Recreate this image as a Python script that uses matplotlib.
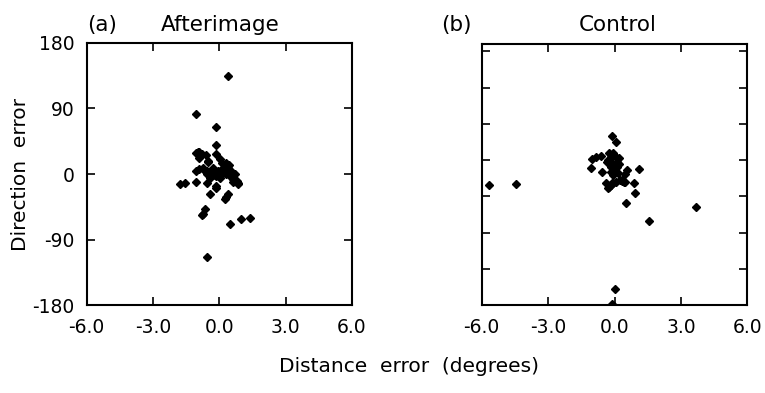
import matplotlib
matplotlib.use("Agg")
import matplotlib.pyplot as plt

# Panel (a) Afterimage: distance error (deg), direction error (deg)
after_x = [0.38, -1.06, -0.13, -0.13, -0.13, -1.06, -0.90, -0.93, -0.60, -0.50,
           -1.06, -0.90, -0.74, 0.02, 0.10, 0.32, 0.43, -0.28, -0.43, -0.58,
           -0.28, -1.79, -1.56, -1.06, -0.56, -0.13, -0.13, -0.43, 0.40, 0.32,
           0.25, -0.65, -0.72, -0.77, 0.47, 0.96, 1.38, -0.56, 0.85, 0.62,
           -0.74, -0.58, -0.43, -0.28, -0.13, 0.02, 0.10, -0.05, 0.25, 0.40,
           0.17, 0.32, 0.55, 0.47, 0.70, 0.62, 0.78, 0.85, -0.43, -0.95,
           -0.80, -0.50]
after_y = [134.7, 82.0, 65.0, 40.0, 28.0, 29.0, 30.7, 22.5, 25.7, 17.0,
           4.0, 6.5, 8.8, 20.0, 15.7, 15.7, 12.4, 8.8, 2.0, -0.4,
           -1.8, -13.2, -11.8, -10.5, -11.8, -17.0, -19.6, -27.0, -27.0, -31.0,
           -34.0, -48.5, -55.4, -56.7, -69.0, -62.0, -60.0, -113.5, -14.0, -11.0,
           7.4, 4.1, 1.9, -0.4, -2.7, -5.0, 6.5, 4.1, 11.0, 8.8,
           1.9, -0.4, 4.1, -2.7, -0.4, -7.3, -9.6, -12.8, -5.0, 30.0,
           27.0, 18.0]

# Panel (b) Control
ctrl_x = [-5.67, -4.44, -0.10, 0.05, -1.00, -0.85, -0.62, -1.08, -0.58, -0.25,
          -0.17, 0.05, 0.20, -0.33, -0.10, 0.13, -0.17, -0.02, 0.05, -0.17,
          -0.07, 0.13, 0.55, 0.47, 1.10, 0.35, 0.46, 0.23, -0.40, -0.28,
          -0.17, -0.07, 0.88, 0.93, 0.50, 1.56, 3.67, 0.02, -0.13, -0.25,
          -0.10, 0.05, 0.33, 0.43, -0.30, 0.00, 0.20, -0.05, 0.15]
ctrl_y = [-14.2, -13.3, 53.0, 45.4, 21.0, 24.0, 25.7, 8.8, 4.1, 29.4,
          24.8, 24.8, 22.6, 17.9, 15.7, 17.9, 11.0, 8.8, 4.1, 4.1,
          -0.4, 11.0, 6.5, 1.0, 7.4, -7.3, -9.6, -7.3, -11.0, -17.9,
          -14.2, -11.8, -11.0, -24.8, -38.5, -63.7, -44.0, -157.0, -178.0, -16.5,
          -11.8, -9.6, -8.3, -9.6, 20.0, 13.0, 14.0, 30.0, 2.0]

x_ticks = [-6.0, -3.0, 0.0, 3.0, 6.0]
x_ticklabels = ["-6.0", "-3.0", "0.0", "3.0", "6.0"]
ya_ticks = [-180, -90, 0, 90, 180]
ya_ticklabels = ["-180", "-90", "0", "90", "180"]
yb_ticks = [-130, -80, -30, 20, 70, 120, 170]

plt.rcParams['font.family'] = ['DejaVu Sans']
FS_TICK = 13.5
FS_TITLE = 15.5
FS_LABEL = 14.5

fig = plt.figure(figsize=(7.65, 3.93), dpi=100)
axa = fig.add_axes([0.1133, 0.2239, 0.3468, 0.6667])
axb = fig.add_axes([0.6297, 0.2232, 0.3472, 0.6648])

for ax in (axa, axb):
    ax.set_xlim(-6, 6)
    ax.set_ylim(-180, 180)
    for s in ax.spines.values():
        s.set_linewidth(1.5)
    ax.set_xticks(x_ticks)
    ax.set_xticklabels(x_ticklabels, fontsize=FS_TICK)
    ax.tick_params(axis='both', direction='in', length=6, width=1.2,
                   top=True, right=True, pad=9)

axa.set_yticks(ya_ticks)
axa.set_yticklabels(ya_ticklabels, fontsize=FS_TICK)
axb.set_yticks(yb_ticks)
axb.set_yticklabels([])

# hide ticks at the corners (limits) to mimic reference
for ax in (axa, axb):
    for t in ax.xaxis.get_major_ticks():
        if abs(t.get_loc()) == 6:
            t.tick1line.set_visible(False)
            t.tick2line.set_visible(False)
for t in axa.yaxis.get_major_ticks():
    if abs(t.get_loc()) == 180:
        t.tick1line.set_visible(False)
        t.tick2line.set_visible(False)

axa.plot(after_x, after_y, linestyle='none', marker='D', ms=3.6,
         color='black', clip_on=False)
axb.plot(ctrl_x, ctrl_y, linestyle='none', marker='D', ms=3.6,
         color='black', clip_on=True)

fig.text(87 / 765, 1 - 25 / 393, "(a)", fontsize=FS_TITLE, va='center', ha='left')
fig.text(220 / 765, 1 - 25 / 393, "Afterimage", fontsize=FS_TITLE, va='center', ha='center')
fig.text(441 / 765, 1 - 25 / 393, "(b)", fontsize=FS_TITLE, va='center', ha='left')
fig.text(618 / 765, 1 - 25 / 393, "Control", fontsize=FS_TITLE, va='center', ha='center')

fig.text(21 / 765, 1 - 174 / 393, "Direction  error", fontsize=FS_LABEL,
         rotation=90, va='center', ha='center')
fig.text(409 / 765, 1 - 367 / 393, "Distance  error  (degrees)", fontsize=FS_LABEL,
         va='center', ha='center')

fig.savefig("out.png", dpi=100)
